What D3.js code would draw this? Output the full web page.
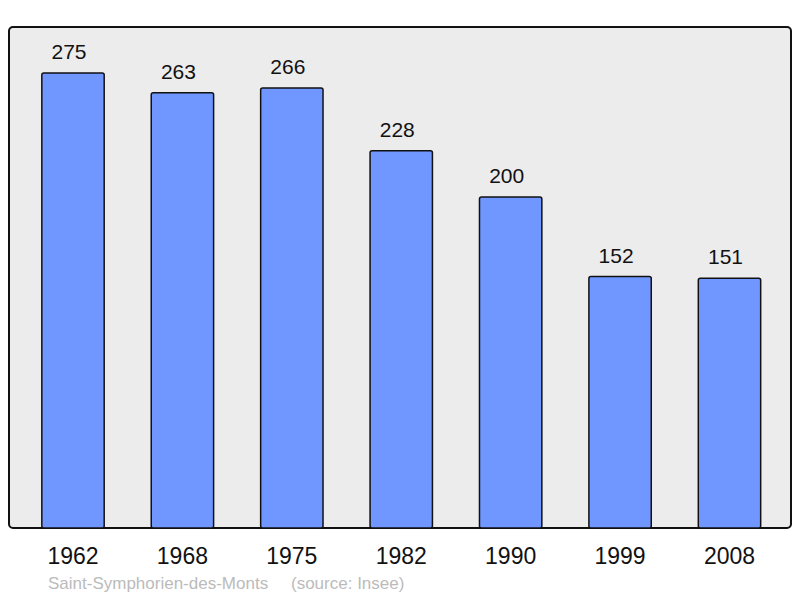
<!DOCTYPE html>
<html><head><meta charset="utf-8">
<script src="https://cdn.jsdelivr.net/npm/d3@7"></script>
<style>body{margin:0;background:#fff}svg{display:block}text{font-family:"Liberation Sans",Arial,sans-serif}</style>
</head><body>
<script>
const years = ["1962","1968","1975","1982","1990","1999","2008"];
const population = [275,263,266,228,200,152,151];
const title = "Saint-Symphorien-des-Monts";
const source = "(source: Insee)";

const W = 800, H = 598;
const svg = d3.select("body").append("svg").attr("width", W).attr("height", H);

const panel = {x0: 9, y0: 27, x1: 791, y1: 528};
svg.append("rect").attr("x", panel.x0).attr("y", panel.y0)
  .attr("width", panel.x1 - panel.x0).attr("height", panel.y1 - panel.y0)
  .attr("rx", 4).attr("fill", "#ececec").attr("stroke", "#111").attr("stroke-width", 2);

const x = d3.scaleBand().domain(years).range([18.3, 784.2]).paddingInner(0.43).paddingOuter(0.215);
const y = d3.scaleLinear().domain([0, 275]).range([528, 73]);

const g = svg.append("g");
g.selectAll("rect.bar").data(years).join("rect").attr("class", "bar")
  .attr("x", d => x(d)).attr("width", x.bandwidth())
  .attr("y", (d, i) => y(population[i])).attr("height", (d, i) => y(0) - y(population[i]))
  .attr("rx", 2).attr("fill", "#7097ff").attr("stroke", "#111").attr("stroke-width", 1.5);

g.selectAll("text.val").data(years).join("text").attr("class", "val")
  .attr("x", d => x(d) + x.bandwidth() / 2 - 4).attr("y", (d, i) => y(population[i]) - 14)
  .attr("text-anchor", "middle").attr("font-size", 21).attr("fill", "#111")
  .text((d, i) => population[i]);

g.selectAll("text.yr").data(years).join("text").attr("class", "yr")
  .attr("x", d => x(d) + x.bandwidth() / 2).attr("y", 564)
  .attr("text-anchor", "middle").attr("font-size", 23).attr("fill", "#111")
  .text(d => d);

svg.append("text").attr("x", 48).attr("y", 589).attr("font-size", 17).attr("fill", "#bbbbbb").text(title);
svg.append("text").attr("x", 291).attr("y", 589).attr("font-size", 17).attr("fill", "#bbbbbb").text(source);
</script>
</body></html>
